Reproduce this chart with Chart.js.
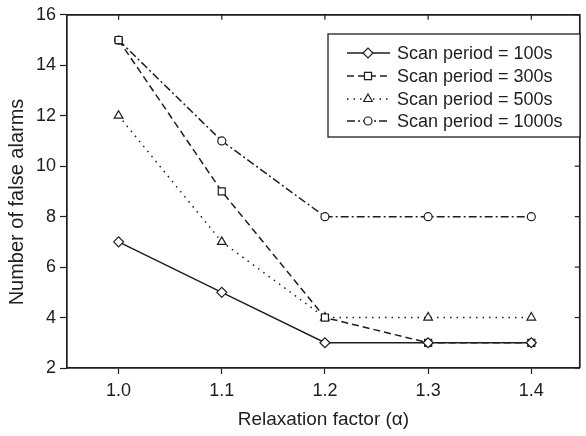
<!DOCTYPE html>
<html>
<head>
<meta charset="utf-8">
<script src="https://cdn.jsdelivr.net/npm/chart.js@4/dist/chart.umd.min.js"></script>
<style>
  html, body { margin: 0; padding: 0; background: #fff; }
  #wrap { width: 586px; height: 436px; }
</style>
</head>
<body>
<div id="wrap"><canvas id="myChart" width="586" height="436"></canvas></div>
<script>
// data
var alpha = [1.0, 1.1, 1.2, 1.3, 1.4];
var scan100 = [7, 5, 3, 3, 3];
var scan300 = [15, 9, 4, 3, 3];
var scan500 = [12, 7, 4, 4, 4];
var scan1000 = [15, 11, 8, 8, 8];
var seriesNames = ['Scan period = 100s', 'Scan period = 300s', 'Scan period = 500s', 'Scan period = 1000s'];
var xTicks = [1.0, 1.1, 1.2, 1.3, 1.4];
var yTicks = [2, 4, 6, 8, 10, 12, 14, 16];
var yTitle = 'Number of false alarms';

var ink = '#1e1e1e';
var fontFam = '"Liberation Sans", Arial, Helvetica, sans-serif';

function pts(vals) {
  return vals.map(function(v, i) { return {x: alpha[i], y: v}; });
}

function series(label, vals, dash, shape, r) {
  return {
    label: label,
    data: pts(vals),
    borderColor: ink,
    borderWidth: 1.5,
    borderDash: dash,
    backgroundColor: '#fff',
    pointStyle: shape,
    pointRadius: r,
    pointBorderWidth: 1.2,
    pointBorderColor: ink,
    pointBackgroundColor: '#fff',
    tension: 0,
    fill: false
  };
}

// top + right frame with inward ticks, y title, and the boxed legend
var framePlugin = {
  id: 'frame',
  afterDatasetsDraw: function(chart) {
    var c = chart.ctx, a = chart.chartArea;
    var xs = chart.scales.x, ys = chart.scales.y;
    c.save();
    c.strokeStyle = ink;
    c.lineWidth = 1.7;
    c.beginPath();
    c.moveTo(a.left, a.top); c.lineTo(a.right, a.top); c.lineTo(a.right, a.bottom);
    c.stroke();
    c.lineWidth = 1.2;
    xTicks.forEach(function(t) {
      var px = xs.getPixelForValue(t);
      c.beginPath(); c.moveTo(px, a.top); c.lineTo(px, a.top + 5); c.stroke();
    });
    yTicks.forEach(function(t) {
      var py = ys.getPixelForValue(t);
      c.beginPath(); c.moveTo(a.right, py); c.lineTo(a.right - 5, py); c.stroke();
    });

    // y axis title
    c.save();
    c.translate(17, 202);
    c.rotate(-Math.PI / 2);
    c.font = '20px ' + fontFam;
    c.fillStyle = ink;
    c.textAlign = 'center';
    c.textBaseline = 'middle';
    c.fillText(yTitle, 0, 0);
    c.restore();

    // legend box
    c.fillStyle = '#fff';
    c.fillRect(328, 34, 252, 103);
    c.lineWidth = 1.3;
    c.strokeRect(328, 34, 252, 103);
    c.font = '18px ' + fontFam;
    c.textBaseline = 'middle';
    var rows = [53, 76, 99, 121];
    chart.data.datasets.forEach(function(ds, i) {
      var y = rows[i];
      c.setLineDash(ds.borderDash || []);
      c.lineWidth = ds.borderWidth;
      c.strokeStyle = ink;
      c.beginPath(); c.moveTo(347, y); c.lineTo(390, y); c.stroke();
      c.setLineDash([]);
      if (Chart.helpers && Chart.helpers.drawPoint) {
        c.fillStyle = '#fff';
        c.lineWidth = 1.2;
        Chart.helpers.drawPoint(c, {pointStyle: ds.pointStyle, radius: ds.pointRadius, rotation: 0, borderWidth: 1.2}, 368, y);
      }
      c.fillStyle = ink;
      c.fillText(seriesNames[i], 397, y + 1);
    });
    c.restore();
  }
};

var ctx = document.getElementById('myChart').getContext('2d');
var chart = new Chart(ctx, {
  type: 'line',
  data: {
    datasets: [
      series(seriesNames[0], scan100, [], 'rectRot', 5),
      series(seriesNames[1], scan300, [7, 4], 'rect', 5),
      series(seriesNames[2], scan500, [1.5, 5], 'triangle', 5),
      series(seriesNames[3], scan1000, [8, 3, 2, 3], 'circle', 4)
    ]
  },
  options: {
    responsive: false,
    animation: false,
    layout: { padding: { top: 13, right: 1, left: 0, bottom: 0 } },
    plugins: {
      legend: { display: false },
      tooltip: { enabled: false }
    },
    scales: {
      x: {
        type: 'linear',
        min: 0.95,
        max: 1.447,
        afterBuildTicks: function(axis) {
          axis.ticks = xTicks.map(function(v) { return {value: v}; });
        },
        afterFit: function(axis) { axis.height = 68; },
        grid: { drawOnChartArea: false, tickLength: 6, tickWidth: 1.2, tickColor: ink },
        border: { color: ink, width: 1.7 },
        ticks: {
          color: ink,
          padding: 6,
          font: { family: fontFam, size: 18 },
          callback: function(v) { return Number(v).toFixed(1); }
        },
        title: {
          display: true,
          text: 'Relaxation factor (α)',
          color: ink,
          font: { family: fontFam, size: 19 },
          padding: { top: 0, bottom: 5 }
        }
      },
      y: {
        min: 2,
        max: 16,
        afterBuildTicks: function(axis) {
          axis.ticks = yTicks.map(function(v) { return {value: v}; });
        },
        afterFit: function(axis) { axis.width = 67; },
        grid: { drawOnChartArea: false, tickLength: 7, tickWidth: 1.2, tickColor: ink },
        border: { color: ink, width: 1.7 },
        ticks: {
          color: ink,
          padding: 4,
          font: { family: fontFam, size: 18 }
        }
      }
    }
  },
  plugins: [framePlugin]
});
</script>
</body>
</html>
